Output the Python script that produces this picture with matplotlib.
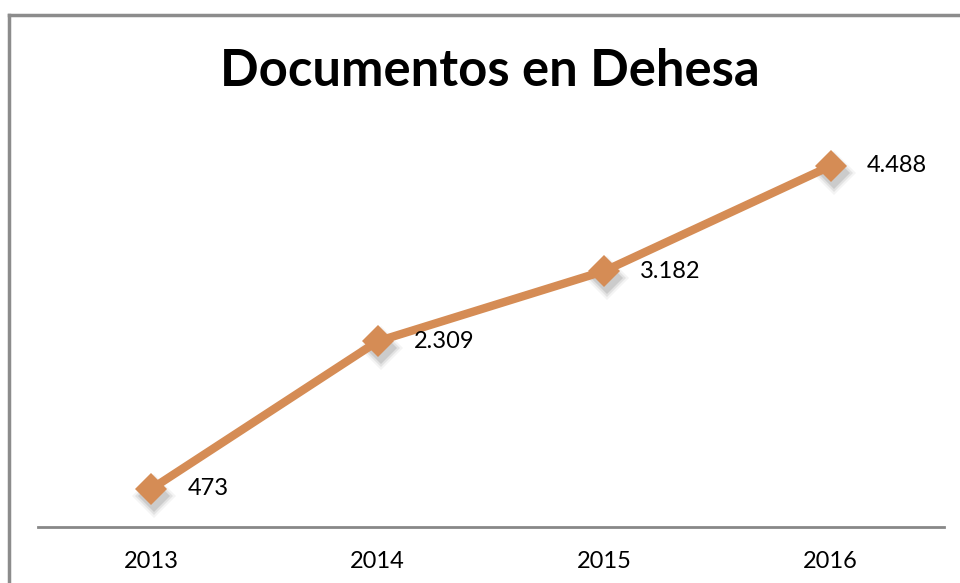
"""
Documentos en Dehesa - line chart
"""

import matplotlib.pyplot as plt
from matplotlib.lines import Line2D
from matplotlib.transforms import ScaledTranslation

# Data
years = ['2013', '2014', '2015', '2016']
docs = [473, 2309, 3182, 4488]
labels = ['473', '2.309', '3.182', '4.488']

plt.rcParams['font.family'] = ['Lato', 'DejaVu Sans']

fig = plt.figure(figsize=(9.6, 5.83), dpi=100)
ax = fig.add_axes([0.0396, 0.096, 0.9437, 0.69])

x = [i + 0.5 for i in range(len(years))]
line_color = '#d58c55'

# soft shadow under the markers (a few stacked translucent layers)
for size, alpha in [(22, 0.06), (19, 0.1), (16, 0.14)]:
    shift = ax.transData + ScaledTranslation(3 / 100, -7 / 100, fig.dpi_scale_trans)
    ax.plot(x, docs, linestyle='none', marker='D', markersize=size,
            color='#444444', alpha=alpha, markeredgewidth=0, transform=shift)
ax.plot(x, docs, color=line_color, linewidth=6, marker='D', markersize=16,
        markeredgewidth=0, solid_capstyle='round')

for xi, v, lab in zip(x, docs, labels):
    ax.annotate(lab, (xi, v), xytext=(26, 0), textcoords='offset points',
                ha='left', va='center', fontsize=17, color='black')

ax.set_xlim(0, 4)
ax.set_ylim(0, 5000)
ax.set_xticks(x, labels=years)
ax.set_yticks([])
ax.tick_params(axis='x', length=0, pad=17, labelsize=17)
for side in ['top', 'right', 'left']:
    ax.spines[side].set_visible(False)
ax.spines['bottom'].set_color('#888888')
ax.spines['bottom'].set_linewidth(2)

fig.text(0.51, 0.877, 'Documentos en Dehesa', ha='center', va='center',
         fontsize=36.5, fontweight='bold')

# outer frame (top and left only)
fig.add_artist(Line2D([9 / 960, 9 / 960], [0, 1 - 15 / 583],
                      transform=fig.transFigure, color='#8c8c8c', linewidth=2.5))
fig.add_artist(Line2D([9 / 960, 1], [1 - 15 / 583, 1 - 15 / 583],
                      transform=fig.transFigure, color='#8c8c8c', linewidth=2.5))

fig.savefig('out.png', dpi=100)
